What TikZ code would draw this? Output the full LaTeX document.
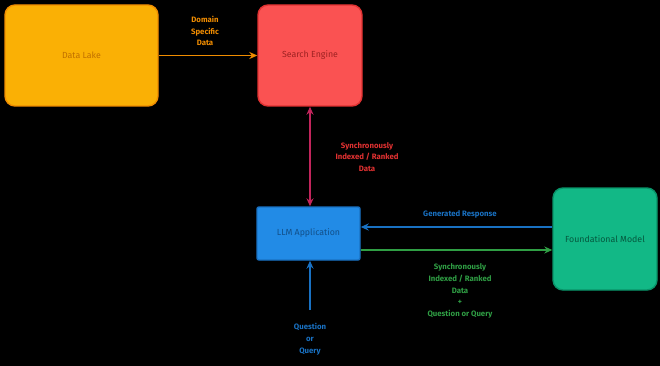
\documentclass[tikz,border=0pt]{standalone}
\usepackage{fontspec}
\setmainfont{Fira Sans}
\usetikzlibrary{arrows.meta}
\definecolor{lakefill}{HTML}{FAB005}
\definecolor{lakeline}{HTML}{F08C00}
\definecolor{searchfill}{HTML}{FA5252}
\definecolor{searchline}{HTML}{E03131}
\definecolor{llmfill}{HTML}{228BE6}
\definecolor{llmline}{HTML}{1971C2}
\definecolor{modelfill}{HTML}{12B886}
\definecolor{modelline}{HTML}{099268}
\definecolor{syncline}{HTML}{C2255C}
\definecolor{greenline}{HTML}{2F9E44}
\tikzset{
  box/.style={draw, line width=1.4pt, rounded corners=10pt, inner sep=0pt, font=\fontsize{8.8}{10}\selectfont},
  flow/.style={line width=1.8pt, -{Stealth[length=8pt,width=7pt]}},
  lbl/.style={font=\bfseries\fontsize{7.8}{11.8}\selectfont, align=center, inner sep=1pt},
}
\begin{document}
\begin{tikzpicture}[x=1pt,y=-1pt]
  \fill[black] (0,0) rectangle (660,366);
  \useasboundingbox (0,0) rectangle (660,366);

  % components
  \node[box, fill=lakefill, draw=lakeline, text=lakeline!80!black, minimum width=153pt, minimum height=101pt]
    (lake) at (81.5,55.5) {Data Lake};
  \node[box, fill=searchfill, draw=searchline, text=searchline!70!black, minimum width=104pt, minimum height=101pt]
    (search) at (310,55.5) {Search Engine};
  \node[box, rounded corners=2pt, fill=llmfill, draw=llmline, text=llmline!70!black, minimum width=103pt, minimum height=53pt]
    (llm) at (308.5,233.5) {LLM Application};
  \node[box, fill=modelfill, draw=modelline, text=modelline!60!black, minimum width=104pt, minimum height=102pt]
    (model) at (605,239) {Foundational Model};
  \coordinate (user) at (310,310);

  % data lake feeds the search engine
  \draw[flow, lakeline] (lake.east) -- (search.west);
  \node[lbl, text=lakeline] (lakelbl) at (205,31) {Domain\\Specific\\Data};

  % search engine <-> llm application
  \draw[line width=1.8pt, syncline, {Stealth[length=8pt,width=7pt]}-{Stealth[length=8pt,width=7pt]}]
    (search.south) -- (search.south |- llm.north);
  \node[lbl, text=searchline] (synclbl) at (367,157) {Synchronously\\Indexed / Ranked\\Data};

  % model response
  \draw[flow, llmline] (model.west |- 0,227) -- (llm.east |- 0,227);
  \node[lbl, text=llmline] (resplbl) at (460,214) {Generated Response};

  % prompt to the model
  \draw[flow, greenline] (llm.east |- 0,250) -- (model.west |- 0,250);
  \node[lbl, text=greenline] (promptlbl) at (460,291)
    {Synchronously\\Indexed / Ranked\\Data\\+\\Question or Query};

  % user question
  \draw[flow, llmline] (user) -- (llm.south -| user);
  \node[lbl, text=llmline] (userlbl) at (310,339) {Question\\or\\Query};
\end{tikzpicture}
\end{document}
